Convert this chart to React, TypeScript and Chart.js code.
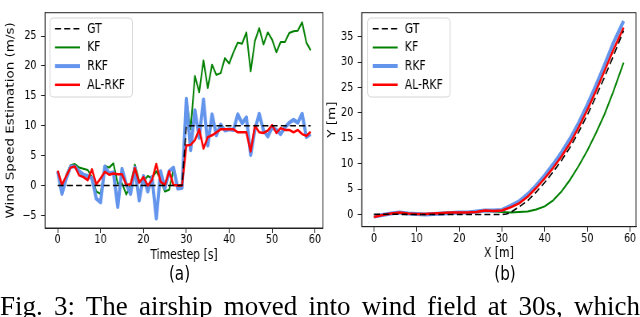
import React, { useEffect, useRef } from 'react';
import { Chart, registerables } from 'chart.js';

Chart.register(...registerables);

// ---------- data: (a) wind speed estimation ----------
const timesteps = [
  0, 1, 2, 3, 4, 5, 6, 7, 8, 9, 10, 11, 12, 13, 14, 15, 16, 17, 18, 19,
  20, 21, 22, 23, 24, 25, 26, 27, 28, 29, 30, 31, 32, 33, 34, 35, 36, 37, 38, 39,
  40, 41, 42, 43, 44, 45, 46, 47, 48, 49, 50, 51, 52, 53, 54, 55, 56, 57, 58, 59,
];
const windGT = [
  0, 0, 0, 0, 0, 0, 0, 0, 0, 0, 0, 0, 0, 0, 0, 0, 0, 0, 0, 0,
  0, 0, 0, 0, 0, 0, 0, 0, 0, 0, 10, 10, 10, 10, 10, 10, 10, 10, 10, 10,
  10, 10, 10, 10, 10, 10, 10, 10, 10, 10, 10, 10, 10, 10, 10, 10, 10, 10, 10, 10,
];
const windKF = [
  2.4, -1.5, 1.8, 3.4, 3.6, 3.0, 2.8, 2.6, 1.4, -1.0, -1.4, 3.3, 3.0, 3.7, 0.3, 0.4, -1.5, 0.2, 3.5, 0.8,
  0.6, 1.6, 1.2, 2.4, 1.0, -1.0, -0.7, 2.7, 0.1, 0.1, 14.6, 9.4, 18.3, 15.6, 20.9, 16.3, 20.2, 18.5, 18.8, 21.3,
  20.4, 22.3, 23.9, 23.7, 25.6, 19.1, 24.2, 26.3, 23.6, 25.6, 24.4, 22.3, 24.0, 24.0, 25.5, 25.8, 25.9, 27.3, 23.9, 22.6,
];
const windRKF = [
  2.4, -1.4, 1.2, 3.2, 3.2, 2.4, 1.8, 1.6, 1.2, -2.2, -2.8, 3.2, 2.0, 2.2, -3.6, 2.8, 0.2, -1.4, 3.0, -2.5,
  1.6, -1.0, 1.4, -5.5, 2.4, -0.5, 2.4, 3.0, -0.5, -0.4, 14.5, 5.9, 12.6, 8.0, 14.4, 6.7, 11.9, 8.4, 10.2, 9.2,
  9.4, 9.3, 11.9, 10.4, 11.4, 5.1, 9.4, 12.0, 9.2, 8.2, 9.7, 9.3, 8.6, 9.7, 10.5, 11.0, 10.5, 12.0, 8.1, 8.6,
];
const windALRKF = [
  2.5, 0.1, 1.6, 3.0, 3.2, 1.7, 1.4, 0.9, 2.7, 0.2, 1.2, 2.3, 1.8, 2.0, 1.9, 1.9, 0.1, 0.2, 2.9, 0.5,
  1.4, 0.0, 0.9, 3.6, 0.6, 0.1, 2.4, 0.1, 0.0, 0.0, 6.7, 6.8, 7.6, 9.4, 6.2, 8.1, 8.4, 8.9, 9.4, 9.4,
  9.4, 9.4, 8.9, 8.9, 8.9, 5.7, 10.0, 8.9, 8.8, 9.2, 10.1, 8.8, 9.6, 9.3, 9.3, 8.9, 9.3, 8.6, 8.3, 9.0,
];

// ---------- data: (b) trajectory ----------
const gtX = [0, 5, 10, 15, 20, 25, 30, 31, 32, 34, 36, 38, 40, 42, 44, 46, 48, 50, 52, 54, 56, 58.5];
const gtY = [0.05, 0.05, 0, 0, 0, 0, 0, 0.1, 0.4, 1.5, 2.7, 4.4, 6.3, 8.4, 10.7, 13.3, 16.3, 19.6, 23.2, 27.0, 31.0, 36.2];

const kfX = [0, 2, 4, 6, 8, 10, 12, 14, 16, 18, 20, 22, 24, 26, 28, 30, 32, 34, 36, 38, 40, 42, 44, 46, 48, 50, 52, 54, 56, 58.5];
const kfY = [-0.5, -0.1, 0.2, 0.4, 0.2, 0.1, 0.1, 0.2, 0.3, 0.4, 0.4, 0.4, 0.5, 0.7, 0.6, 0.5, 0.4, 0.5, 0.6, 1.0, 1.6, 2.8, 4.6, 6.9, 9.6, 12.6, 16.0, 19.7, 24.0, 29.9];

const rkfX = [0, 2, 4, 6, 8, 10, 12, 14, 16, 18, 20, 22, 24, 26, 28, 30, 32, 34, 36, 38, 40, 42, 44, 46, 48, 50, 52, 54, 56, 58.5];
const rkfY = [-0.4, -0.1, 0.2, 0.4, 0.2, 0.1, 0.0, 0.1, 0.2, 0.3, 0.4, 0.4, 0.6, 0.8, 0.8, 0.9, 1.7, 2.6, 4.0, 5.7, 7.7, 9.9, 12.3, 15.0, 18.1, 21.6, 25.4, 29.4, 33.6, 38.1];

const alrkfX = [0, 2, 4, 6, 8, 10, 12, 14, 16, 18, 20, 22, 24, 26, 28, 30, 32, 34, 36, 38, 40, 42, 44, 46, 48, 50, 52, 54, 56, 58.5];
const alrkfY = [-0.5, -0.1, 0.2, 0.4, 0.2, 0.1, 0.1, 0.2, 0.3, 0.4, 0.4, 0.4, 0.5, 0.8, 0.7, 0.8, 1.4, 2.2, 3.5, 5.2, 7.1, 9.2, 11.5, 14.1, 17.2, 20.6, 24.3, 28.2, 32.2, 36.8];

const seriesLabels = ['GT', 'KF', 'RKF', 'AL-RKF'];
const xTicksA = [0, 10, 20, 30, 40, 50, 60];
const yTicksA = [-5, 0, 5, 10, 15, 20, 25];
const xTicksB = [0, 10, 20, 30, 40, 50, 60];
const yTicksB = [0, 5, 10, 15, 20, 25, 30, 35];

// ---------- styles ----------
const FONT = "'DejaVu Sans', sans-serif";
const SX = 0.8; // horizontal squeeze of the figure
const AXIS = '#222';
const C_GT = '#000000';
const C_KF = '#008000';
const C_RKF = '#6495ED';
const C_AL = '#ff0000';
const DASH = [7.5, 4];

const legendEntries = [
  { label: seriesLabels[0], color: C_GT, width: 1.6, dash: DASH },
  { label: seriesLabels[1], color: C_KF, width: 2 },
  { label: seriesLabels[2], color: C_RKF, width: 4 },
  { label: seriesLabels[3], color: C_AL, width: 2.5 },
];

const fmt = (v: number) => (v < 0 ? '\u2212' + Math.abs(v) : String(v));

function overlay(boxOffX: number) {
  return {
    id: 'overlay',
    afterDraw(chart: any) {
      const ctx = chart.ctx;
      const a = chart.chartArea;
      ctx.save();
      ctx.strokeStyle = AXIS;
      ctx.lineWidth = 1;
      ctx.setLineDash([]);
      ctx.strokeRect(a.left, a.top, a.right - a.left, a.bottom - a.top);
      const bx = a.left + boxOffX;
      const by = a.top + 5.3;
      const bw = 103;
      const bh = 79;
      ctx.beginPath();
      ctx.roundRect(bx, by, bw, bh, 4);
      ctx.fillStyle = 'rgba(255,255,255,0.85)';
      ctx.fill();
      ctx.strokeStyle = '#d4d4d4';
      ctx.lineWidth = 1;
      ctx.stroke();
      legendEntries.forEach((e, i) => {
        const y = by + 10.7 + 18.7 * i;
        ctx.beginPath();
        ctx.setLineDash(e.dash || []);
        ctx.strokeStyle = e.color;
        ctx.lineWidth = e.width;
        ctx.lineCap = 'butt';
        ctx.moveTo(bx + 6.25, y);
        ctx.lineTo(bx + 37.5, y);
        ctx.stroke();
        ctx.setLineDash([]);
        ctx.fillStyle = '#000';
        ctx.font = `13.5px ${FONT}`;
        ctx.textBaseline = 'middle';
        ctx.textAlign = 'left';
        ctx.fillText(e.label, bx + 46.5, y + 0.5);
      });
      ctx.restore();
    },
  };
}

function axisX(min: number, max: number, ticksList: number[], title: string, height: number, titlePad: number) {
  return {
    type: 'linear' as const,
    min,
    max,
    afterFit: (s: any) => { s.height = height; },
    afterBuildTicks: (s: any) => { s.ticks = ticksList.map((v) => ({ value: v })); },
    ticks: { font: { family: FONT, size: 12 }, color: '#000', padding: 0, maxRotation: 0, autoSkip: false, callback: (v: any) => fmt(Number(v)) },
    grid: { drawOnChartArea: false, drawTicks: true, tickLength: 5, color: AXIS, lineWidth: 1 },
    border: { display: true, color: AXIS, width: 1 },
    title: { display: true, text: title, color: '#000', font: { family: FONT, size: 13.5 }, padding: { top: 0, bottom: titlePad } },
  };
}

function axisY(min: number, max: number, ticksList: number[], title: string, width: number, titlePad: number) {
  return {
    type: 'linear' as const,
    min,
    max,
    afterFit: (s: any) => { s.width = width; },
    afterBuildTicks: (s: any) => { s.ticks = ticksList.map((v) => ({ value: v })); },
    ticks: { font: { family: FONT, size: 12 }, color: '#000', padding: 5.5, autoSkip: false, callback: (v: any) => fmt(Number(v)) },
    grid: { drawOnChartArea: false, drawTicks: true, tickLength: 5, color: AXIS, lineWidth: 1 },
    border: { display: true, color: AXIS, width: 1 },
    title: { display: true, text: title, color: '#000', font: { family: FONT, size: 13.5 }, padding: { top: titlePad, bottom: 0 } },
  };
}

function ds(label: string, pts: { x: number; y: number }[], color: string, width: number, order: number, dash?: number[]) {
  return {
    label,
    data: pts,
    borderColor: color,
    backgroundColor: color,
    borderWidth: width,
    borderDash: dash || [],
    borderJoinStyle: 'round' as const,
    borderCapStyle: 'butt' as const,
    pointRadius: 0,
    pointHoverRadius: 0,
    fill: false,
    tension: 0,
    order,
  };
}

const zipT = (vals: number[]) => timesteps.map((t, i) => ({ x: t, y: vals[i] }));
const zipXY = (xs: number[], ys: number[]) => xs.map((x, i) => ({ x, y: ys[i] }));

export default function App() {
  const leftRef = useRef<HTMLCanvasElement>(null);
  const rightRef = useRef<HTMLCanvasElement>(null);

  useEffect(() => {
    const common = {
      animation: false as const,
      responsive: false,
      maintainAspectRatio: false,
      devicePixelRatio: 1,
      events: [] as any[],
    };
    const c1 = new Chart(leftRef.current!, {
      type: 'line',
      data: {
        datasets: [
          ds(seriesLabels[0], zipT(windGT), C_GT, 1.6, 0, DASH),
          ds(seriesLabels[1], zipT(windKF), C_KF, 2, 3),
          ds(seriesLabels[2], zipT(windRKF), C_RKF, 4, 2),
          ds(seriesLabels[3], zipT(windALRKF), C_AL, 2.5, 1),
        ],
      },
      options: {
        ...common,
        layout: { padding: { left: 0, top: 4, right: 1.25, bottom: 0 } },
        plugins: { legend: { display: false }, tooltip: { enabled: false } },
        scales: {
          x: axisX(-2.96, 61.87, xTicksA, 'Timestep [s]', 42, 6.9),
          y: axisY(-7.1, 28.9, yTicksA, 'Wind Speed Estimation (m/s)', 56.25, 5.65),
        },
      } as any,
      plugins: [overlay(6.25)],
    });
    const c2 = new Chart(rightRef.current!, {
      type: 'line',
      data: {
        datasets: [
          ds(seriesLabels[0], zipXY(gtX, gtY), C_GT, 1.6, 0, DASH),
          ds(seriesLabels[1], zipXY(kfX, kfY), C_KF, 2, 3),
          ds(seriesLabels[2], zipXY(rkfX, rkfY), C_RKF, 4, 2),
          ds(seriesLabels[3], zipXY(alrkfX, alrkfY), C_AL, 2.5, 1),
        ],
      },
      options: {
        ...common,
        layout: { padding: { left: 0, top: 4, right: 5, bottom: 0 } },
        plugins: { legend: { display: false }, tooltip: { enabled: false } },
        scales: {
          x: axisX(-2.88, 61.4, xTicksB, 'X [m]', 43.3, 8.6),
          y: axisY(-2.4, 39.73, yTicksB, 'Y [m]', 47.1, 1.9),
        },
      } as any,
      plugins: [overlay(7.5)],
    });
    return () => {
      c1.destroy();
      c2.destroy();
    };
  }, []);

  return (
    <div style={{ position: 'fixed', left: 0, top: 0, width: 640, height: 317, overflow: 'hidden', background: '#fff' }}>
      <div style={{ position: 'absolute', left: 0, top: 0, width: 800, height: 292, transform: `scaleX(${SX})`, transformOrigin: '0 0' }}>
        <canvas ref={leftRef} width={405} height={270} style={{ position: 'absolute', left: 0, top: 0 }} />
        <canvas ref={rightRef} width={395} height={270} style={{ position: 'absolute', left: 405, top: 0 }} />
        <div style={{ position: 'absolute', left: 174.4, top: 262.3, width: 100, textAlign: 'center', font: `19px ${FONT}`, lineHeight: '22px', color: '#000' }}>(a)</div>
        <div style={{ position: 'absolute', left: 581.25, top: 262.3, width: 100, textAlign: 'center', font: `19px ${FONT}`, lineHeight: '22px', color: '#000' }}>(b)</div>
      </div>
      <div style={{ position: 'absolute', left: 0, top: 293.4, width: 640, font: "27px 'Liberation Serif', 'Times New Roman', serif", lineHeight: '27px', textAlign: 'justify', textAlignLast: 'justify', color: '#000' }}>
        Fig. 3: The airship moved into wind field at 30s, which
      </div>
    </div>
  );
}
